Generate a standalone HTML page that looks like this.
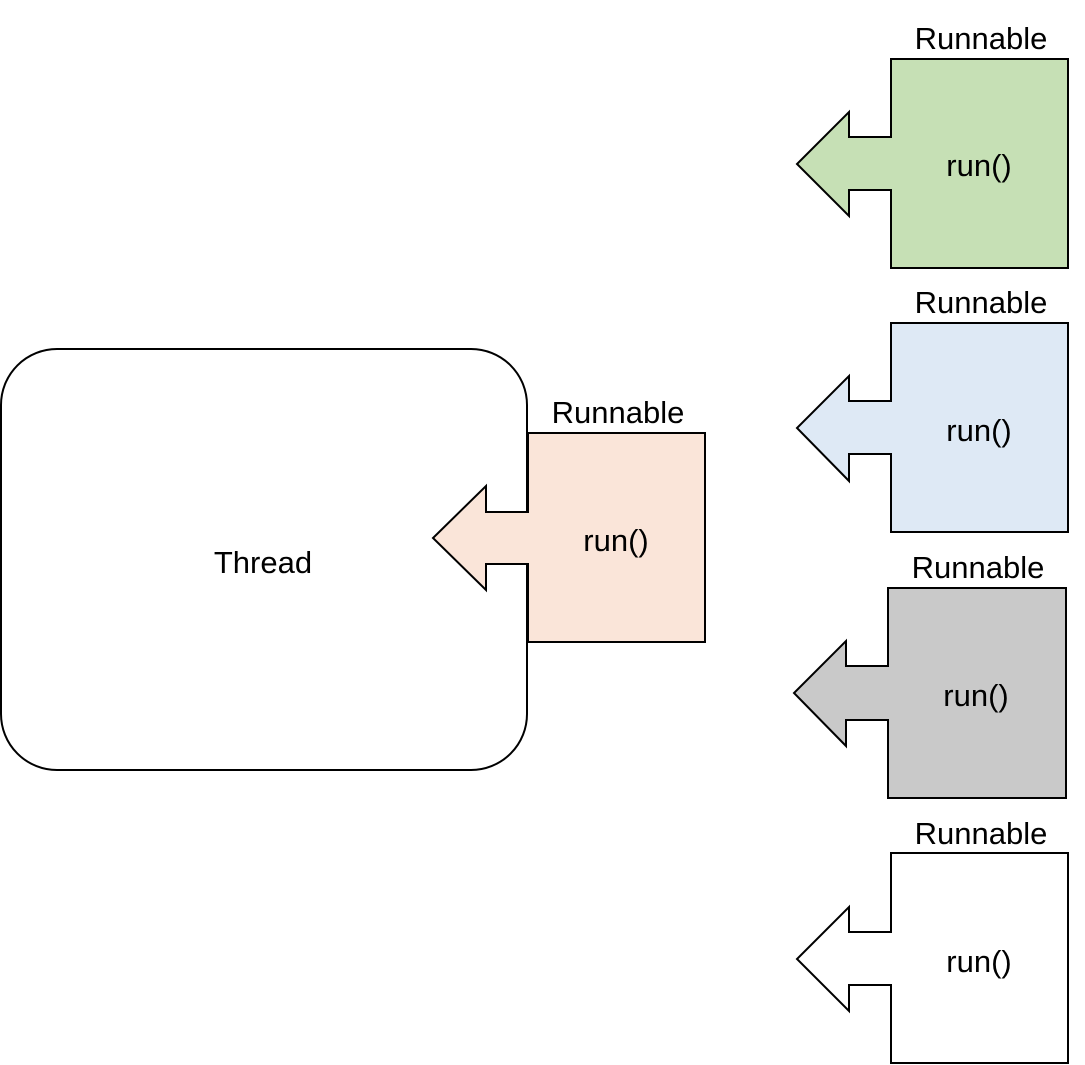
<!DOCTYPE html>
<html><head><meta charset="utf-8"><style>html,body{margin:0;padding:0;background:#fff}svg{display:block}text{font-family:"Liberation Sans",sans-serif;font-size:31px;fill:#000}</style></head>
<body>
<svg width="1085" height="1065" viewBox="0 0 1085 1065" xmlns="http://www.w3.org/2000/svg">
<g stroke="#000" stroke-width="2" stroke-linejoin="miter">
<rect x="1" y="349" width="526" height="421" rx="56" ry="56" fill="#fff"/>
<path d="M528,433 L528,512 L486,512 L486,486 L433,538 L486,590 L486,564 L528,564 L528,642 L705,642 L705,433 Z" fill="#fae5d9"/>
<path d="M891,59 L891,137 L849,137 L849,112 L797,164 L849,216 L849,190 L891,190 L891,268 L1068,268 L1068,59 Z" fill="#c6e0b5"/>
<path d="M891,323 L891,401 L849,401 L849,376 L797,428 L849,481 L849,454 L891,454 L891,532 L1068,532 L1068,323 Z" fill="#dee9f5"/>
<path d="M888,588 L888,666 L846,666 L846,641 L794,693 L846,746 L846,720 L888,720 L888,798 L1066,798 L1066,588 Z" fill="#c9c9c9"/>
<path d="M891,853 L891,932 L849,932 L849,907 L797,959 L849,1011 L849,985 L891,985 L891,1063 L1068,1063 L1068,853 Z" fill="#fff"/>
</g>
<text x="263" y="573" text-anchor="middle">Thread</text>
<text x="618" y="423" text-anchor="middle">Runnable</text>
<text x="616" y="551" text-anchor="middle">run()</text>
<text x="981" y="49" text-anchor="middle">Runnable</text>
<text x="979" y="176" text-anchor="middle">run()</text>
<text x="981" y="313" text-anchor="middle">Runnable</text>
<text x="979" y="441" text-anchor="middle">run()</text>
<text x="978" y="578" text-anchor="middle">Runnable</text>
<text x="976" y="706" text-anchor="middle">run()</text>
<text x="981" y="844" text-anchor="middle">Runnable</text>
<text x="979" y="972" text-anchor="middle">run()</text>
</svg>
</body></html>
